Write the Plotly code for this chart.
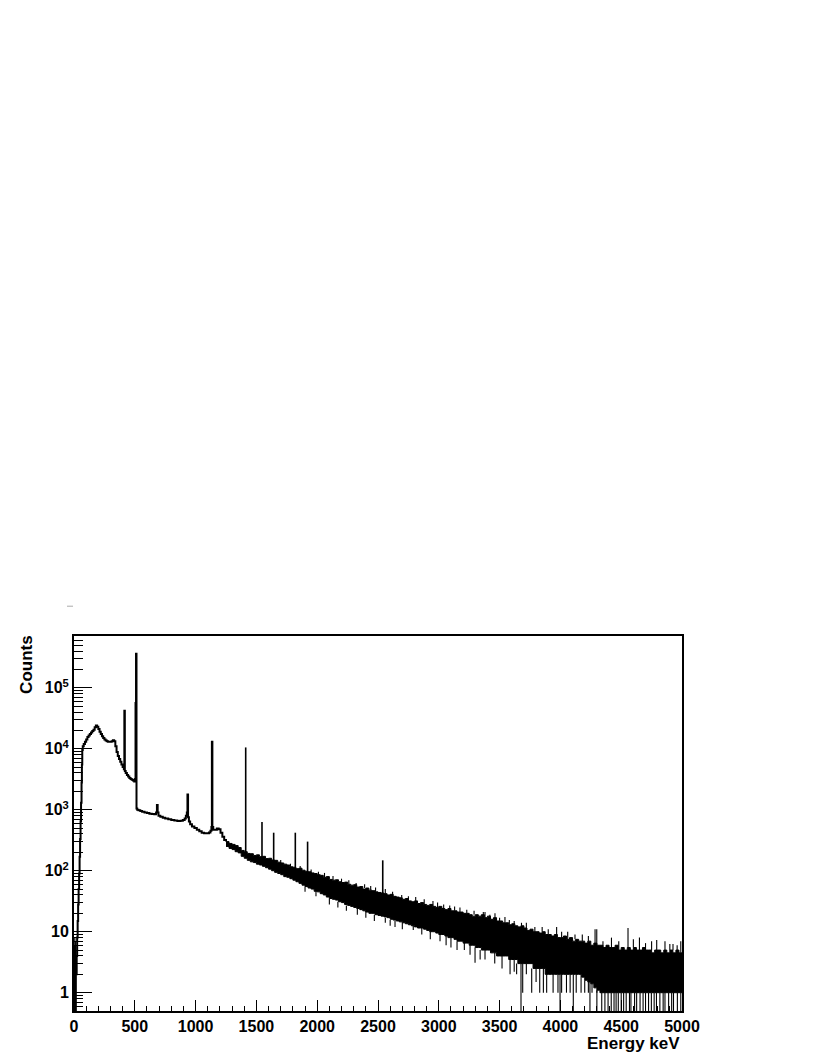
import plotly.graph_objects as go

# ---------------- data ----------------
# smooth low-energy part of the spectrum, step histogram (bin left edge, counts)
smooth_E = [18, 22, 26, 30, 34, 38, 42, 46, 50, 54, 58, 62, 65, 68, 72, 80, 90, 100, 110, 120,
            130, 140, 150, 160, 170, 180, 190, 200, 210, 220, 230, 240, 250, 260, 270, 280, 290,
            300, 310, 320, 330, 340, 350, 360, 370, 380, 390, 400, 410, 414, 418, 425, 435, 445,
            455, 465, 475, 485, 495, 502, 506, 510, 514, 520, 530, 545, 560, 580, 600, 620, 640,
            660, 675, 682, 688, 695, 710, 730, 750, 775, 800, 825, 850, 875, 895, 910, 920, 928,
            933, 938, 945, 955, 970, 990, 1010, 1030, 1050, 1070, 1090, 1110, 1122, 1130, 1134,
            1138, 1145, 1160, 1175, 1190, 1205, 1220, 1235, 1250]
smooth_counts = [2, 4, 8, 15, 28, 50, 90, 170, 330, 650, 1300, 2800, 5500, 9500, 11000, 12000,
                 13000, 14200, 15500, 16500, 17500, 18500, 19500, 20500, 22500, 24000, 23000,
                 21000, 19000, 17500, 16000, 15000, 14200, 13600, 13200, 13000, 13000, 13000,
                 13300, 13800, 13200, 11000, 8800, 7600, 6800, 6100, 5500, 5000, 4600, 42000,
                 4300, 4000, 3700, 3500, 3300, 3200, 3100, 3000, 2900, 3200, 56000, 360000, 1050,
                 1000, 980, 950, 930, 900, 880, 860, 850, 840, 900, 1200, 900, 800, 770, 740, 720,
                 700, 680, 665, 655, 660, 680, 720, 800, 900, 1780, 750, 640, 580, 530, 500, 470,
                 445, 420, 410, 410, 425, 450, 520, 13000, 520, 470, 470, 490, 480, 420, 360, 320,
                 300]

# very-low-energy noisy bins (keV, counts)
lowE_E = [1, 3, 5, 7, 9, 11, 13, 15, 17]
lowE_counts = [3, 6, 5, 8, 4, 7, 5, 6, 3]

# noisy continuum above 1250 keV: 25 keV bins, upper / lower edge of the noise band
band_E = [1250 + 25 * k for k in range(151)]
band_hi = [300, 280, 270, 258, 240, 215, 205, 192, 190, 178, 182, 170, 172, 158, 160, 150, 148,
           138, 134, 128, 124, 116, 114, 108, 110, 102, 98, 96, 92, 90, 86, 84, 78, 80, 72, 70,
           71, 66, 64, 65, 60, 58, 59, 54, 55, 50, 52, 48, 47, 45, 44, 43, 42, 40, 41, 38, 37,
           36, 34, 35, 32, 31, 32, 29, 30, 28, 27, 28, 26, 25, 26, 24, 23, 24, 22, 22, 21, 21,
           20, 20, 19, 18, 19, 18, 19, 17, 18, 16, 17, 15, 15, 14, 14, 13, 13.5, 12.5, 12, 12.5,
           11.5, 10.5, 11, 10, 10, 9.5, 10, 9, 9, 8.5, 9, 8, 8, 8.5, 7.5, 8, 7, 7.5, 7, 7, 6.5,
           7, 6, 6.5, 6, 6, 5.5, 6, 5.5, 5.5, 6, 5, 5.5, 5, 5.5, 5, 5.5, 5, 5, 5.5, 5, 5, 4.5,
           5, 5, 4.5, 5, 4.5, 5, 4.5, 5, 4.5, 4.5]
band_lo = [250, 232, 222, 205, 196, 172, 160, 148, 140, 136, 128, 124, 118, 112, 106, 100, 94, 90,
           86, 80, 78, 74, 70, 66, 62, 58, 55, 52, 50, 46, 45, 42, 40, 37, 35, 34, 33, 31, 30,
           28, 27, 26, 25, 24, 23, 22, 21, 20, 20, 19, 18.5, 18, 17.5, 17, 16, 15.5, 15, 14.5,
           14, 13.5, 13, 12.5, 12, 11.5, 11.5, 11, 10.5, 10, 10, 9.5, 9, 9, 8.5, 8, 8, 7.5, 7, 7,
           6.5, 6.5, 6, 6, 5.5, 5.5, 5, 5, 5, 4.5, 4.5, 4, 4, 4, 4, 3.5, 3.5, 3.5, 3, 3, 3, 3, 3,
           2.5, 2.5, 2.5, 2.5, 2, 2, 2, 2, 2, 2, 2, 2, 2, 2, 2, 2, 1.8, 1.6, 1.5, 1.4, 1.2, 1.1,
           1, 1, 1, 1, 1, 1, 1, 1, 1, 1, 1, 1, 1, 1, 1, 1, 1, 1, 1, 1, 1, 1, 1, 1, 1, 1, 1, 1]

# gamma lines sitting on the noisy continuum (keV, base counts, peak counts)
peak_E = [1412, 1546, 1642, 1820, 1921, 2539]
peak_base = [170, 150, 130, 95, 82, 32]
peak_top = [10500, 630, 420, 420, 300, 148]

# single bins sticking above the band (keV, band edge, bin counts)
up_E = [1700, 1780, 1860, 1950, 2010, 2060, 2130, 2200, 2260, 2320, 2390, 2440, 2480, 2560,
        2620, 2695, 2750, 2810, 2880, 2952, 2990, 3040, 3090, 3130, 3174, 3230, 3290, 3366,
        3380, 3420, 3462, 3500, 3544, 3580, 3620, 3680, 3720, 3790, 3850, 3900, 3969, 4010,
        4060, 4120, 4180, 4230, 4285, 4299, 4350, 4420, 4480, 4556, 4600, 4650, 4700, 4750,
        4792, 4860, 4900, 4926, 4960, 4990]
up_base = [130, 116, 104, 92, 84, 78, 70, 64, 60, 55, 52, 48, 45, 42, 38, 36, 32, 32, 28, 26,
           25, 24, 23, 22, 21, 20, 19, 18, 17, 16, 17, 15, 14, 13, 13, 12.5, 11.5, 10, 10, 9,
           8, 8, 7.5, 7.5, 7, 7, 6.5, 6, 5.5, 5.5, 5, 5.5, 5.5, 5, 5, 5, 5, 5, 5, 5, 4.5, 4.5]
up_top = [150, 130, 120, 105, 96, 92, 82, 74, 70, 63, 60, 56, 53, 50, 45, 40, 38, 37, 34, 32,
          30, 28, 27, 26, 25, 23, 22, 21, 21, 19, 20, 17, 17.5, 15.5, 15, 14, 14, 12, 12, 11,
          12, 10, 10, 9, 9, 8.5, 11, 11, 7, 8, 7, 11.5, 7.5, 8, 6.5, 7, 7.3, 7, 6.3, 6.3, 6, 7]

# single bins dipping below the band (keV, band edge, bin counts)
dip_E = [1900, 1990, 2100, 2170, 2240, 2330, 2400, 2470, 2560, 2600, 2640, 2700, 2790, 2860,
         2930, 3010, 3060, 3100, 3150, 3210, 3257, 3298, 3340, 3380, 3460, 3520, 3586, 3620,
         3640, 3690, 3720, 3764, 3800, 3830, 3860, 3887, 3940, 3980, 4010, 4050, 4080, 4130,
         4170, 4200, 4230, 4260, 4300]
dip_base = [55, 46, 35, 31, 27, 24, 22, 19, 17, 15.5, 15, 14, 12.5, 11.5, 10, 9, 8.5, 8, 7, 6.5,
            6, 5.5, 5, 5, 4.5, 4, 3.5, 3.5, 3, 3, 3, 2.5, 2.5, 2.5, 2.5, 2, 2, 2, 2, 2, 2, 2, 2,
            1.6, 1.5, 1.4, 1.1]
dip_low = [45, 38, 28, 25, 22, 19, 17, 15, 14, 12.5, 12, 11, 10.7, 9, 7.5, 7, 6, 5.5, 5, 5, 4.2,
           3.1, 3.5, 3.5, 3, 2.5, 2, 2.2, 2, 1, 2, 1, 1.5, 1, 1, 1, 1, 1, 1, 1, 1, 1, 1, 1, 1, 1,
           1]

# empty bins (zero counts drop to the bottom of the log axis): keV and neighbour level
zero_E = [3676, 3997, 4106, 4243, 4300, 4340, 4366, 4392, 4418, 4441, 4458, 4476, 4500, 4520,
          4541, 4568, 4580, 4610, 4627, 4655, 4680, 4700, 4725, 4748, 4771, 4790, 4818, 4845,
          4860, 4890, 4915, 4930, 4962, 4990]
zero_from = [3, 2, 2, 1.5, 1.1, 1, 1, 1, 1, 1, 1, 1, 1, 1, 1, 1, 1, 1, 1, 1, 1, 1, 1, 1, 1, 1,
             1, 1, 1, 1, 1, 1, 1, 1]
ZERO_LEVEL = 0.1  # below the axis minimum, i.e. "no counts"

x_ticks = [0, 500, 1000, 1500, 2000, 2500, 3000, 3500, 4000, 4500, 5000]
y_ticks = [1, 10, 100, 1000, 10000, 100000]
y_ticktext = ["1", "10", "10<sup>2</sup>", "10<sup>3</sup>", "10<sup>4</sup>", "10<sup>5</sup>"]


def segments(xs, y0s, y1s):
    X, Y = [], []
    for x, a, b in zip(xs, y0s, y1s):
        X += [x, x, None]
        Y += [a, b, None]
    return X, Y


BLACK = "black"
fig = go.Figure()

# low-energy noise
sx, sy = segments(lowE_E, [ZERO_LEVEL] * len(lowE_E), lowE_counts)
fig.add_trace(go.Scatter(x=sx, y=sy, mode="lines", line=dict(color=BLACK, width=1.2),
                         hoverinfo="skip"))
# smooth part
fig.add_trace(go.Scatter(x=smooth_E, y=smooth_counts, mode="lines",
                         line=dict(color=BLACK, width=2, shape="hv"), hoverinfo="skip"))
# noisy band
fig.add_trace(go.Scatter(x=band_E, y=band_lo, mode="lines",
                         line=dict(color=BLACK, width=1, shape="hv"), hoverinfo="skip"))
fig.add_trace(go.Scatter(x=band_E, y=band_hi, mode="lines",
                         line=dict(color=BLACK, width=1, shape="hv"), fill="tonexty",
                         fillcolor=BLACK, hoverinfo="skip"))
# peaks
sx, sy = segments(peak_E, peak_base, peak_top)
fig.add_trace(go.Scatter(x=sx, y=sy, mode="lines", line=dict(color=BLACK, width=1.6),
                         hoverinfo="skip"))
# up / down single bins
sx, sy = segments(up_E, up_base, up_top)
fig.add_trace(go.Scatter(x=sx, y=sy, mode="lines", line=dict(color=BLACK, width=1.1),
                         hoverinfo="skip"))
sx, sy = segments(dip_E, dip_base, dip_low)
fig.add_trace(go.Scatter(x=sx, y=sy, mode="lines", line=dict(color=BLACK, width=1.1),
                         hoverinfo="skip"))
sx, sy = segments(zero_E, zero_from, [ZERO_LEVEL] * len(zero_E))
fig.add_trace(go.Scatter(x=sx, y=sy, mode="lines", line=dict(color=BLACK, width=1.1),
                         hoverinfo="skip"))

FONT = "Liberation Sans, Arial, Helvetica, sans-serif"
tickfont = dict(family=FONT, size=16, color=BLACK, weight="bold")
titlefont = dict(family=FONT, size=17, color=BLACK, weight="bold")

y_minor = []
for d in [-1, 0, 1, 2, 3, 4, 5]:
    for k in range(2, 10):
        y_minor.append(k * 10 ** d)

# the page adds an 8 px body margin, so the figure is 8 px smaller on each side
fig.update_layout(
    width=810, height=1050,
    margin=dict(l=66, r=136, t=628, b=47, pad=0),
    paper_bgcolor="white", plot_bgcolor="white",
    showlegend=False,
    xaxis=dict(range=[0, 5000], tickvals=x_ticks, ticktext=[str(v) for v in x_ticks],
               ticks="inside", ticklen=11, tickwidth=1, tickcolor=BLACK,
               showline=True, linewidth=2, linecolor=BLACK, mirror=True,
               showgrid=False, zeroline=False, tickfont=tickfont,
               minor=dict(tickmode="linear", tick0=0, dtick=100, ticks="inside", ticklen=5,
                          tickwidth=1, tickcolor=BLACK, showgrid=False)),
    yaxis=dict(type="log", range=[-0.300, 5.848], tickvals=y_ticks, ticktext=y_ticktext,
               ticks="inside", ticklen=18, tickwidth=1, tickcolor=BLACK,
               showline=True, linewidth=2, linecolor=BLACK, mirror=True,
               showgrid=False, zeroline=False, tickfont=tickfont,
               minor=dict(tickmode="array", tickvals=y_minor, ticks="inside", ticklen=9,
                          tickwidth=1, tickcolor=BLACK, showgrid=False)),
    annotations=[
        dict(text="Energy keV", xref="paper", yref="paper", x=1.0, y=-0.086,
             xanchor="right", yanchor="middle", showarrow=False, font=titlefont),
        dict(text="Counts", xref="paper", yref="paper", x=-0.0773, y=0.923, textangle=-90,
             xanchor="center", yanchor="middle", showarrow=False, font=titlefont),
    ],
    shapes=[dict(type="line", xref="paper", yref="paper", x0=-0.0115, x1=-0.0016,
                 y0=1.0795, y1=1.0795, line=dict(color="#aaaaaa", width=1))],
)

fig.write_html("out.html")
